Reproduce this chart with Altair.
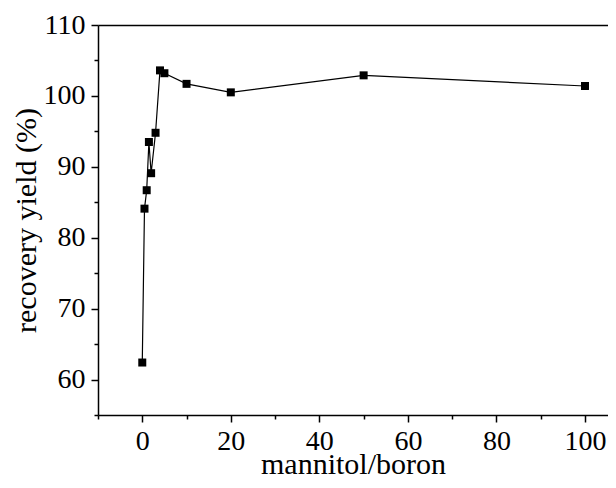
import altair as alt
import pandas as pd

ratio = [0, 0.5, 1, 1.5, 2, 3, 4, 5, 10, 20, 50, 100]
recovery = [62.4, 84.1, 86.7, 93.5, 89.1, 94.8, 103.6, 103.2, 101.7, 100.5, 102.9, 101.4]

x_major = [0, 20, 40, 60, 80, 100]
x_minor = [-10, 10, 30, 50, 70, 90]
y_major = [60, 70, 80, 90, 100, 110]
y_minor = [55, 65, 75, 85, 95, 105]

df = pd.DataFrame({"ratio": ratio, "recovery": recovery})

FONT = "Liberation Serif"
sx = alt.Scale(domain=[-10, 105.2], nice=False, zero=False)
sy = alt.Scale(domain=[55, 110], nice=False, zero=False)

common = dict(labelFont=FONT, titleFont=FONT, labelColor="black", titleColor="black",
              domainColor="black", tickColor="black", grid=False,
              titleFontWeight="normal")

line = alt.Chart(df).mark_line(color="black", strokeWidth=1.2).encode(
    x=alt.X("ratio:Q", scale=sx, axis=alt.Axis(
        values=x_major, orient="bottom", title="mannitol/boron", labelFontSize=28,
        titleFontSize=30, tickSize=7, tickWidth=1.5, domainWidth=1.5,
        labelPadding=5, titleY=58, titleBaseline="alphabetic",
        format="d", labelFlush=False, **common)),
    y=alt.Y("recovery:Q", scale=sy, axis=alt.Axis(
        values=y_major, orient="left", title="recovery yield (%)", labelFontSize=28,
        titleFontSize=30, tickSize=7, tickWidth=1.5, domainWidth=1.5,
        labelPadding=6, titlePadding=2, format="d", labelFlush=False, **common)),
)

pts = alt.Chart(df).mark_square(size=64, color="black", opacity=1).encode(
    x=alt.X("ratio:Q", scale=sx, axis=alt.Axis(
        values=x_minor, orient="bottom", title=None, labels=False, tickSize=4,
        tickWidth=1.5, domain=False, **common)),
    y=alt.Y("recovery:Q", scale=sy, axis=alt.Axis(
        values=y_minor, orient="left", title=None, labels=False, tickSize=4,
        tickWidth=1.5, domain=False, **common)),
)

frame = alt.Chart(df).mark_line(opacity=0).encode(
    x=alt.X("ratio:Q", scale=sx, axis=alt.Axis(
        orient="top", title=None, labels=False, ticks=False, domain=True,
        domainWidth=1.5, **common)),
    y=alt.Y("recovery:Q", scale=sy, axis=None),
)

chart = alt.layer(line, pts, frame).resolve_axis(x="independent", y="independent").properties(
    width=510, height=390,
    autosize=alt.AutoSizeParams(type="none"),
    padding={"left": 90, "top": 17, "right": 0, "bottom": 65},
    background="white",
).configure_view(stroke=None)

chart.save("out.html", embed_options={"renderer": "svg", "actions": False})
